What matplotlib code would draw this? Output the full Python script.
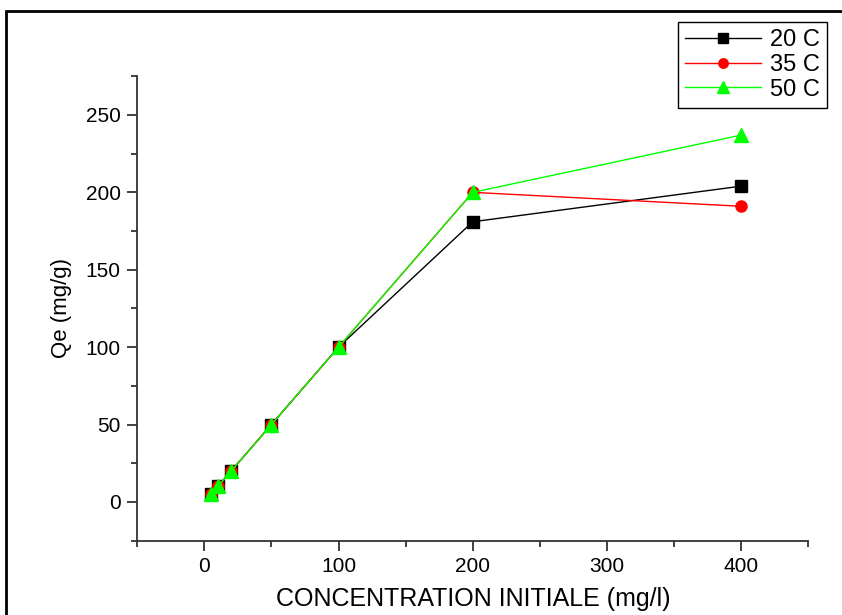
import matplotlib
matplotlib.use('Agg')
import matplotlib.pyplot as plt
from matplotlib.patches import Rectangle

plt.rcParams['font.family'] = ['Liberation Sans', 'DejaVu Sans']

conc = [5, 10, 20, 50, 100, 200, 400]
qe_20 = [5, 10, 20, 50, 100, 181, 204]
qe_35 = [5, 10, 20, 50, 100, 200, 191]
qe_50 = [5, 10, 20, 50, 100, 200, 237]

fig = plt.figure(figsize=(8.42, 6.15), dpi=100)
ax = fig.add_axes([0.163, 0.121, 0.797, 0.755])

ax.plot(conc, qe_20, color='black', lw=1, marker='s', ms=8, label='20 C')
ax.plot(conc, qe_35, color='red', lw=1, marker='o', ms=8, label='35 C')
ax.plot(conc, qe_50, color='#00ff00', lw=1, marker='^', ms=10, label='50 C')

ax.set_xlim(-50, 450)
ax.set_ylim(-25, 275)
ax.set_xticks([0, 100, 200, 300, 400])
ax.set_xticks([-50, 50, 150, 250, 350, 450], minor=True)
ax.set_yticks([0, 50, 100, 150, 200, 250])
ax.set_yticks([-25, 25, 75, 125, 175, 225, 275], minor=True)

for s in ['top', 'right']:
    ax.spines[s].set_visible(False)
for s in ['left', 'bottom']:
    ax.spines[s].set_color('#333333')
    ax.spines[s].set_linewidth(1.3)

ax.tick_params(which='major', direction='out', length=7, width=1.3, color='#333333',
               labelsize=15, pad=5)
ax.tick_params(which='minor', direction='out', length=4, width=1.3, color='#333333')

ax.set_xlabel('CONCENTRATION INITIALE (mg/l)', fontsize=18, labelpad=8)
ax.set_ylabel('Qe (mg/g)', fontsize=16, labelpad=10)

leg = ax.legend(loc='upper right', bbox_to_anchor=(1.028, 1.117), fontsize=17,
                frameon=True, fancybox=False, edgecolor='black', framealpha=1,
                handlelength=3.2, handletextpad=0.4, borderpad=0.3, labelspacing=0.12,
                borderaxespad=0, markerscale=0.85)
leg.get_frame().set_linewidth(1)

# outer frame around the picture
fig.patches.append(Rectangle((6 / 842, -0.05), 1.1, 1 - 11 / 615 + 0.05,
                             transform=fig.transFigure, fill=False,
                             edgecolor='black', lw=2))

fig.savefig('out.png', dpi=100)
